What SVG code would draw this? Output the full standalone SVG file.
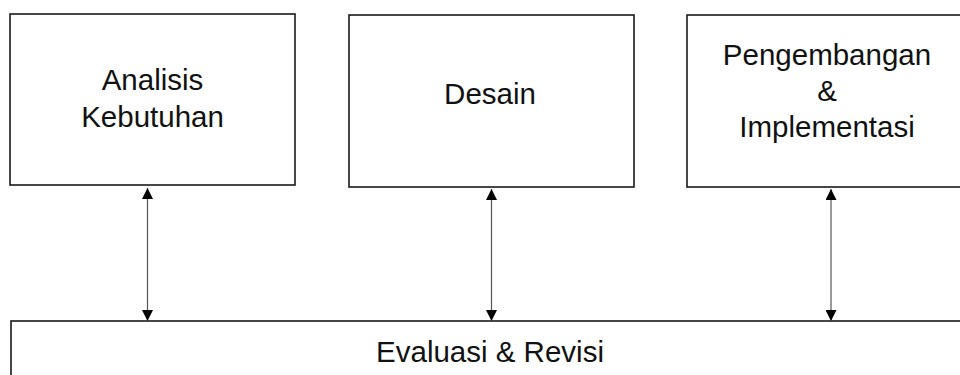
<svg xmlns="http://www.w3.org/2000/svg" width="960" height="375" viewBox="0 0 960 375">
  <style>
    .box { fill: #ffffff; stroke: #1a1a1a; stroke-width: 1.6; }
    .label { font-family: "Liberation Sans", Arial, sans-serif; font-size: 29.5px; fill: #111111; text-anchor: middle; }
    .link { stroke: #555555; stroke-width: 1.2; fill: none; marker-start: url(#head); marker-end: url(#head); }
  </style>
  <defs>
    <marker id="head" viewBox="0 0 11 11" refX="11" refY="5.5" markerWidth="11" markerHeight="11" markerUnits="userSpaceOnUse" orient="auto-start-reverse">
      <path d="M0,0 L11,5.5 L0,11 Z" fill="#000000"/>
    </marker>
  </defs>

  <g id="analisis-kebutuhan">
    <rect class="box" x="10" y="14" width="285" height="171"/>
    <text class="label" x="152.5" y="90">Analisis</text>
    <text class="label" x="152.5" y="127">Kebutuhan</text>
  </g>

  <g id="desain">
    <rect class="box" x="349" y="15" width="285" height="172"/>
    <text class="label" x="490" y="104">Desain</text>
  </g>

  <g id="pengembangan-implementasi">
    <rect class="box" x="687" y="15" width="285" height="172"/>
    <text class="label" x="827" y="65">Pengembangan</text>
    <text class="label" x="827" y="101">&amp;</text>
    <text class="label" x="827" y="137">Implementasi</text>
  </g>

  <g id="evaluasi-revisi">
    <rect class="box" x="11" y="321" width="960" height="80"/>
    <text class="label" x="490" y="362">Evaluasi &amp; Revisi</text>
  </g>

  <g id="connectors">
    <line class="link" x1="147.5" y1="188" x2="147.5" y2="321"/>
    <line class="link" x1="491.5" y1="189" x2="491.5" y2="321"/>
    <line class="link" x1="831" y1="189" x2="831" y2="321"/>
  </g>
</svg>
